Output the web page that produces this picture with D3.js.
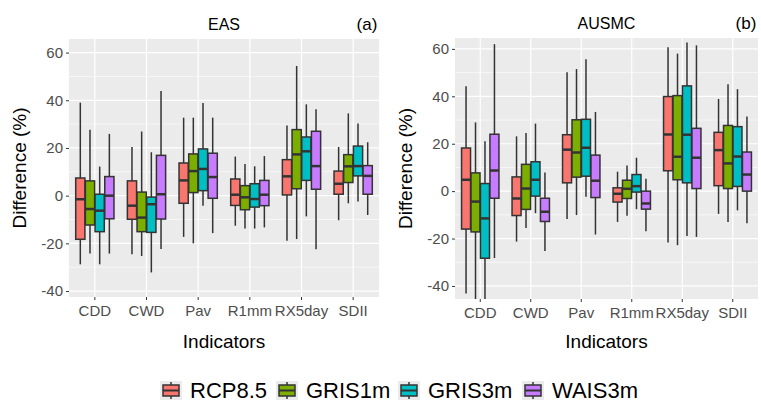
<!DOCTYPE html><html><head><meta charset="utf-8"><script src="https://cdn.jsdelivr.net/npm/d3@7"></script>
<style>body{margin:0;background:#fff;font-family:"Liberation Sans",Arial,sans-serif}</style></head><body><svg id="c" width="761" height="403" style="font-family:'Liberation Sans',Arial,sans-serif"></svg>
<script>
const categories=["CDD","CWD","Pav","R1mm","RX5day","SDII"];
const series=["RCP8.5","GRIS1m","GRIS3m","WAIS3m"];
const colors=["#F8766D","#7CAE00","#00BFC4","#C77CFF"];
const yTicks=[-40,-20,0,20,40,60];
// [upper whisker, q3, median, q1, lower whisker] per category per series
const easData=[
 [[39,7.4,-1.5,-18.3,-28.8],[27.6,6.2,-5.6,-12.3,-24.3],[12.2,0.6,-6.3,-15.1,-28.8],[25.9,8,0,-9.7,-24.3]],
 [[20.4,6.2,-4.2,-9.9,-24.6],[26.9,1.5,-9.2,-15.1,-25.3],[18.2,-0.6,-3.6,-15.4,-32.2],[43.9,16.9,0.6,-9.8,-22.4]],
 [[32.7,13.7,6.4,-3.2,-17.3],[32.7,17.5,10.3,1.3,-20],[38.9,19.6,11.2,2.1,-4.2],[32.7,17.8,7.8,-1.1,-15.7]],
 [[16.4,7,0.4,-4.1,-12.6],[13.3,4.2,-0.7,-5.9,-13.8],[12.3,5,-1.4,-4.8,-13.8],[16.6,6.4,0.4,-4.2,-13.3]],
 [[29.4,15.1,8.1,0.3,-18.9],[54.4,27.7,17.3,2.9,-18.2],[38.3,24.6,18.6,6.4,-8.7],[36.2,27,12.4,2.7,-22.5]],
 [[20.4,10.3,5,0.6,-10.3],[34.5,17.2,12.3,5.5,-3.2],[30.3,20.8,12.4,8.3,-2.5],[22.4,12.6,8.3,0.6,-8.1]]];
const ausData=[
 [[44.2,18.2,4.8,-16,-43.2],[29,7.7,-4.4,-17.2,-47],[21,3.2,-11.5,-28.3,-47],[62,24,8.7,-3,-28.2]],
 [[23.1,6,-3.1,-10.3,-21.3],[24.5,11.3,1.1,-7.7,-15.6],[28.5,12.4,4.8,-2.1,-9.3],[7.9,-3,-8.7,-12.8,-25.2]],
 [[50.1,23.8,17.5,3.5,-11.8],[51.5,30.1,16.3,5.9,-10.1],[55.6,30.3,18.3,6.3,-2.4],[33.4,15.2,4.4,-2.7,-18.3]],
 [[8.2,1.4,-1.1,-4.6,-13],[10.8,4.6,1,-3.1,-10.4],[14.1,7,2.1,-0.4,-7.6],[5.2,0,-5.2,-7.6,-16.9]],
 [[60.7,39.9,23.9,8.6,-21.7],[58,40.3,14.5,4.8,-22.8],[62.7,44.4,23.8,3.5,-18.9],[61.5,26.5,14.1,1.1,-19.3]],
 [[38.9,24.8,17.3,2.3,-9.6],[45.1,27.7,11.7,1.1,-13],[43,27.2,14.6,2,-8.1],[31.5,16.5,7,0,-13.5]]];
const svg=d3.select("#c");
const FF="'Liberation Sans',Arial,sans-serif";
function panel(data,title,tag,x0,x1,y0,y1,dom){
  const g=svg.append("g");
  const x=d3.scaleBand().domain(categories).range([x0,x1]).paddingInner(0.25).paddingOuter(0.125);
  const y=d3.scaleLinear().domain(dom).range([y1,y0]);
  g.append("rect").attr("x",x0).attr("y",y0).attr("width",x1-x0).attr("height",y1-y0).attr("fill","#ebebeb");
  const minor=[];for(let v=-50;v<=70;v+=10)if(v%20!==0&&v>dom[0]&&v<dom[1])minor.push(v);
  g.selectAll(".mn").data(minor).join("line").attr("x1",x0).attr("x2",x1).attr("y1",d=>y(d)).attr("y2",d=>y(d)).attr("stroke","#fff").attr("stroke-width",0.6);
  g.selectAll(".mj").data(yTicks).join("line").attr("x1",x0).attr("x2",x1).attr("y1",d=>y(d)).attr("y2",d=>y(d)).attr("stroke","#fff").attr("stroke-width",1.2);
  g.selectAll(".vx").data(categories).join("line").attr("y1",y0).attr("y2",y1).attr("x1",d=>x(d)+x.bandwidth()/2).attr("x2",d=>x(d)+x.bandwidth()/2).attr("stroke","#fff").attr("stroke-width",1.2);
  const ax=d3.axisLeft(y).tickValues(yTicks).tickSize(3).tickPadding(3).tickFormat(d=>d<0?"-"+(-d):d);
  const ag=g.append("g").attr("transform",`translate(${x0},0)`).call(ax);
  ag.select(".domain").remove();
  ag.selectAll("line").attr("stroke","#333");
  ag.selectAll("text").attr("fill","#4d4d4d").style("font-size","15px").style("font-family",FF);
  const bx=d3.axisBottom(x).tickSize(3).tickPadding(5);
  const bg=g.append("g").attr("transform",`translate(0,${y1})`).call(bx);
  bg.select(".domain").remove();bg.selectAll("line").attr("stroke","#333");
  bg.selectAll("text").attr("fill","#4d4d4d").style("font-size","15px").style("font-family",FF);
  const inner=d3.scaleBand().domain(series).range([0,x.bandwidth()]);
  const bw=inner.bandwidth()*0.95;
  const clip=(v)=>Math.max(dom[0],Math.min(dom[1],v));
  categories.forEach((c,ci)=>series.forEach((s,si)=>{
    const d=data[ci][si];const cx=x(c)+inner(s)+inner.bandwidth()/2;
    g.append("line").attr("x1",cx).attr("x2",cx).attr("y1",y(clip(d[0]))).attr("y2",y(clip(d[4]))).attr("stroke","#333").attr("stroke-width",1.5);
    g.append("rect").attr("x",cx-bw/2).attr("width",bw).attr("y",y(d[1])).attr("height",y(d[3])-y(d[1])).attr("fill",colors[si]).attr("stroke","#333").attr("stroke-width",1.5);
    g.append("line").attr("x1",cx-bw/2).attr("x2",cx+bw/2).attr("y1",y(d[2])).attr("y2",y(d[2])).attr("stroke","#333").attr("stroke-width",2.5);
  }));
  g.append("text").attr("x",(x0+x1)/2).attr("y",y0-9).attr("text-anchor","middle").style("font-size","16px").text(title);
  g.append("text").attr("x",x1-12).attr("y",y0-9).attr("text-anchor","middle").style("font-size","17px").text(tag);
  g.append("text").attr("x",(x0+x1)/2).attr("y",348).attr("text-anchor","middle").style("font-size","19px").text("Indicators");
  g.append("text").attr("transform",`translate(${x0-43},${(y0+y1)/2}) rotate(-90)`).attr("text-anchor","middle").style("font-size","19px").text("Difference (%)");
}
panel(easData,"EAS","(a)",69,379,39,297,[-42.5,65.7]);
panel(ausData,"AUSMC","(b)",455,758,38,299,[-45.5,64.6]);
const lg=svg.append("g");
const lx=[160,276,398,522];
series.forEach((s,i)=>{
  const k=lg.append("g").attr("transform",`translate(${lx[i]},381)`);
  k.append("rect").attr("width",22).attr("height",19).attr("fill","#ebebeb");
  k.append("line").attr("x1",11).attr("x2",11).attr("y1",1).attr("y2",18).attr("stroke","#333").attr("stroke-width",1.5);
  k.append("rect").attr("x",3).attr("y",4).attr("width",16).attr("height",11).attr("fill",colors[i]).attr("stroke","#333").attr("stroke-width",1.5);
  k.append("line").attr("x1",3).attr("x2",19).attr("y1",9.5).attr("y2",9.5).attr("stroke","#333").attr("stroke-width",2);
  lg.append("text").attr("x",lx[i]+30).attr("y",398).style("font-size","22px").text(s);
});
</script></body></html>
